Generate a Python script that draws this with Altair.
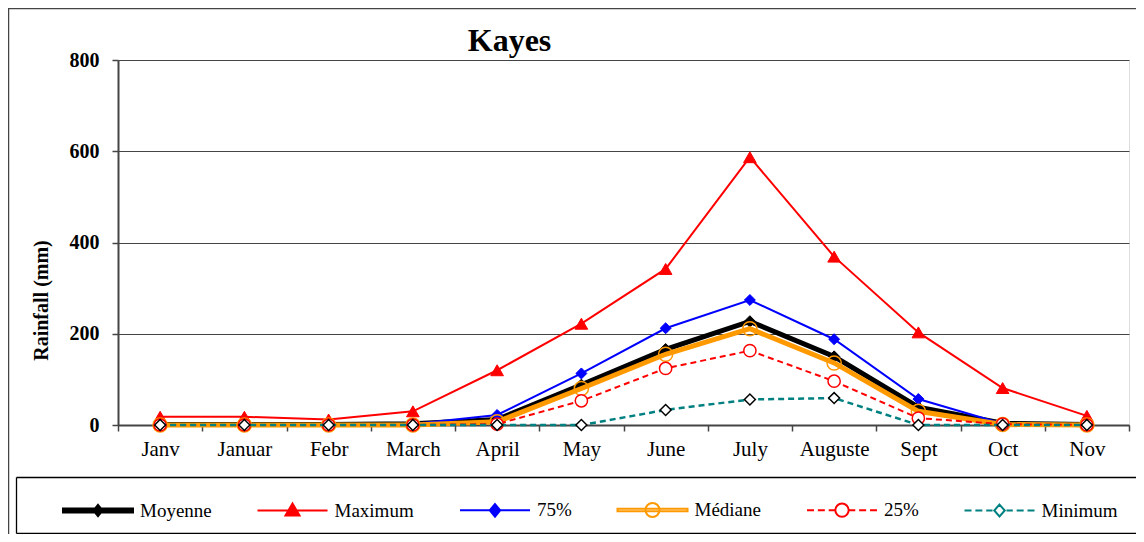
import altair as alt
import pandas as pd

months = ["Janv", "Januar", "Febr", "March", "April", "May", "June",
          "July", "Auguste", "Sept", "Oct", "Nov"]

moyenne = [1, 1, 1, 3, 12, 88, 166, 227, 150, 39, 4, 1]
maximum = [18, 18, 12, 30, 120, 222, 342, 587, 369, 203, 81, 20]
p75 = [0, 0, 0, 2, 22, 113, 212, 274, 188, 57, 3, 0]
mediane = [0, 0, 0, 0, 7, 80, 155, 211, 136, 30, 1, 0]
p25 = [0, 0, 0, 0, 2, 53, 124, 163, 96, 15, 2, 0]
minimum = [0, 0, 0, 0, 0, 0, 33, 56, 59, 0, 0, 0]

series_names = ["Moyenne", "Maximum", "75%", "Médiane", "25%", "Minimum"]
series_values = [moyenne, maximum, p75, mediane, p25, minimum]

rows = []
for name, vals in zip(series_names, series_values):
    for m, v in zip(months, vals):
        rows.append({"month": m, "series": name, "value": v})
df = pd.DataFrame(rows)

FONT = "Liberation Serif"
W, H = 1011, 365

x_enc = alt.X("month:N", sort=months, bandPosition=0.5, title=None,
              scale=alt.Scale(type="band", paddingInner=0, paddingOuter=0),
              axis=alt.Axis(labelFont=FONT, labelFontSize=21, labelColor="black",
                            labelAngle=0, tickBand="extent", tickSize=6,
                            tickColor="#444", tickWidth=1.5, domainColor="#444",
                            domainWidth=2, labelPadding=7, grid=False))
y_enc = alt.Y("value:Q", title="Rainfall (mm)",
              scale=alt.Scale(domain=[0, 800], nice=False),
              axis=alt.Axis(values=[0, 200, 400, 600, 800], grid=True,
                            gridColor="#444", gridWidth=1, labelFont=FONT,
                            labelFontSize=20, labelFontWeight="bold",
                            labelColor="black", tickSize=6, tickColor="#444",
                            tickWidth=1.5, domainColor="#444", domainWidth=2,
                            labelPadding=13, titleFont=FONT, titleFontSize=20,
                            titleFontWeight="bold", titleColor="black",
                            titleAngle=270, titleX=-77, titleY=240,
                            titleAlign="center", titleBaseline="middle"))

styles = {
    "Moyenne": dict(line=dict(color="black", strokeWidth=5),
                    pt=dict(shape="diamond", size=130, filled=True, fill="black",
                            stroke="black", strokeWidth=1)),
    "Maximum": dict(line=dict(color="#ff0000", strokeWidth=2),
                    pt=dict(shape="triangle-up", size=160, filled=True,
                            fill="#ff0000", stroke="#ff0000", strokeWidth=1)),
    "75%": dict(line=dict(color="#0000ff", strokeWidth=2),
                pt=dict(shape="diamond", size=120, filled=True, fill="#0000ff",
                        stroke="#0000ff", strokeWidth=1)),
    "Médiane": dict(line=dict(color="#ff9900", strokeWidth=5),
                    pt=dict(shape="circle", size=200, filled=False,
                            stroke="#ff9900", strokeWidth=1.5)),
    "25%": dict(line=dict(color="#ff0000", strokeWidth=2, strokeDash=[6, 4]),
                pt=dict(shape="circle", size=150, filled=True, fill="white",
                        stroke="#ff0000", strokeWidth=1.5)),
    "Minimum": dict(line=dict(color="#008080", strokeWidth=2.5, strokeDash=[6, 4]),
                    pt=dict(shape="diamond", size=120, filled=True, fill="white",
                            stroke="black", strokeWidth=1.5)),
}

layers = []
for name in series_names:
    st = styles[name]
    base = alt.Chart(df).transform_filter(alt.datum.series == name)
    layers.append(base.mark_line(**st["line"]).encode(x=x_enc, y=y_enc))
    layers.append(base.mark_point(opacity=1, **st["pt"]).encode(x=x_enc, y=y_enc))

# legend symbols (line + marker drawn as one path, unit = half symbol width)
dash_l = "M-1,0H-0.8M-0.69,0H-0.49M-0.38,0H-0.2"
dash_r = "M0.2,0H0.38M0.49,0H0.69M0.8,0H1"
legend_paths = [
    "M-1,-0.06H1V0.06H-1ZM0,-0.16L0.13,0L0,0.16L-0.13,0Z",
    "M-1,0H1M0,-0.2L0.2,0.14L-0.2,0.14Z",
    "M-1,0H1M0,-0.18L0.15,0L0,0.18L-0.15,0Z",
    "M-1,-0.035H1V0.035H-1ZM0.2,0A0.2,0.2 0 1,1 -0.2,0A0.2,0.2 0 1,1 0.2,0Z",
    dash_l + dash_r + "M0.19,0A0.19,0.19 0 1,1 -0.19,0A0.19,0.19 0 1,1 0.19,0Z",
    dash_l + dash_r + "M0,-0.17L0.15,0L0,0.17L-0.15,0Z",
]
legend_strokes = ["black", "#ff0000", "#0000ff", "#ff9900", "#ff0000", "#008080"]
legend_fills = ["black", "#ff0000", "#0000ff", "white", "white", "white"]

leg = alt.Legend(title=None, orient="none", legendX=-56, legendY=414,
                 direction="horizontal", columns=6, columnPadding=41.5,
                 gridAlign="each", symbolSize=4900, symbolStrokeWidth=2,
                 symbolOpacity=1, labelFont=FONT, labelFontSize=19,
                 labelColor="black", labelOffset=6, padding=0, labelLimit=0)

legend_layer = alt.Chart(df).transform_filter("false").mark_point(
    filled=True, opacity=1).encode(
    stroke=alt.Stroke("series:N", scale=alt.Scale(domain=series_names, range=legend_strokes), legend=leg),
    fill=alt.Fill("series:N", scale=alt.Scale(domain=series_names, range=legend_fills), legend=leg),
    shape=alt.Shape("series:N", scale=alt.Scale(domain=series_names, range=legend_paths), legend=leg),
)
layers.append(legend_layer)

one = pd.DataFrame({"k": [0]})
def rule(x1, x2, y1, y2, color, width):
    return alt.Chart(one).mark_rule(color=color, strokeWidth=width, clip=False).encode(
        x=alt.value(x1), x2=alt.value(x2), y=alt.value(y1), y2=alt.value(y2))

# outer chart frame and legend box
layers += [
    rule(-110, 1020, -51.5, -51.5, "#444", 1.5),
    rule(-109.5, -109.5, -52, 474, "#444", 1.5),
    rule(-101.5, 1020, 417.5, 417.5, "black", 1.3),
    rule(-101.5, -101.5, 417.5, 473.5, "black", 1.3),
    rule(-101.5, 1020, 473.5, 473.5, "black", 1.3),
]

chart = alt.layer(*layers).properties(
    width=W, height=H,
    title=alt.TitleParams("Kayes", font=FONT, fontSize=32, fontWeight="bold",
                          color="black", anchor="middle", dx=-114, dy=76,
                          baseline="alphabetic", offset=0),
    padding={"left": 110, "top": 52, "right": 7, "bottom": 109},
    autosize="none",
).configure_view(stroke="#8c8c8c", strokeWidth=2).configure(background="white")

chart.save("out.html", embed_options={"renderer": "svg", "actions": False})
